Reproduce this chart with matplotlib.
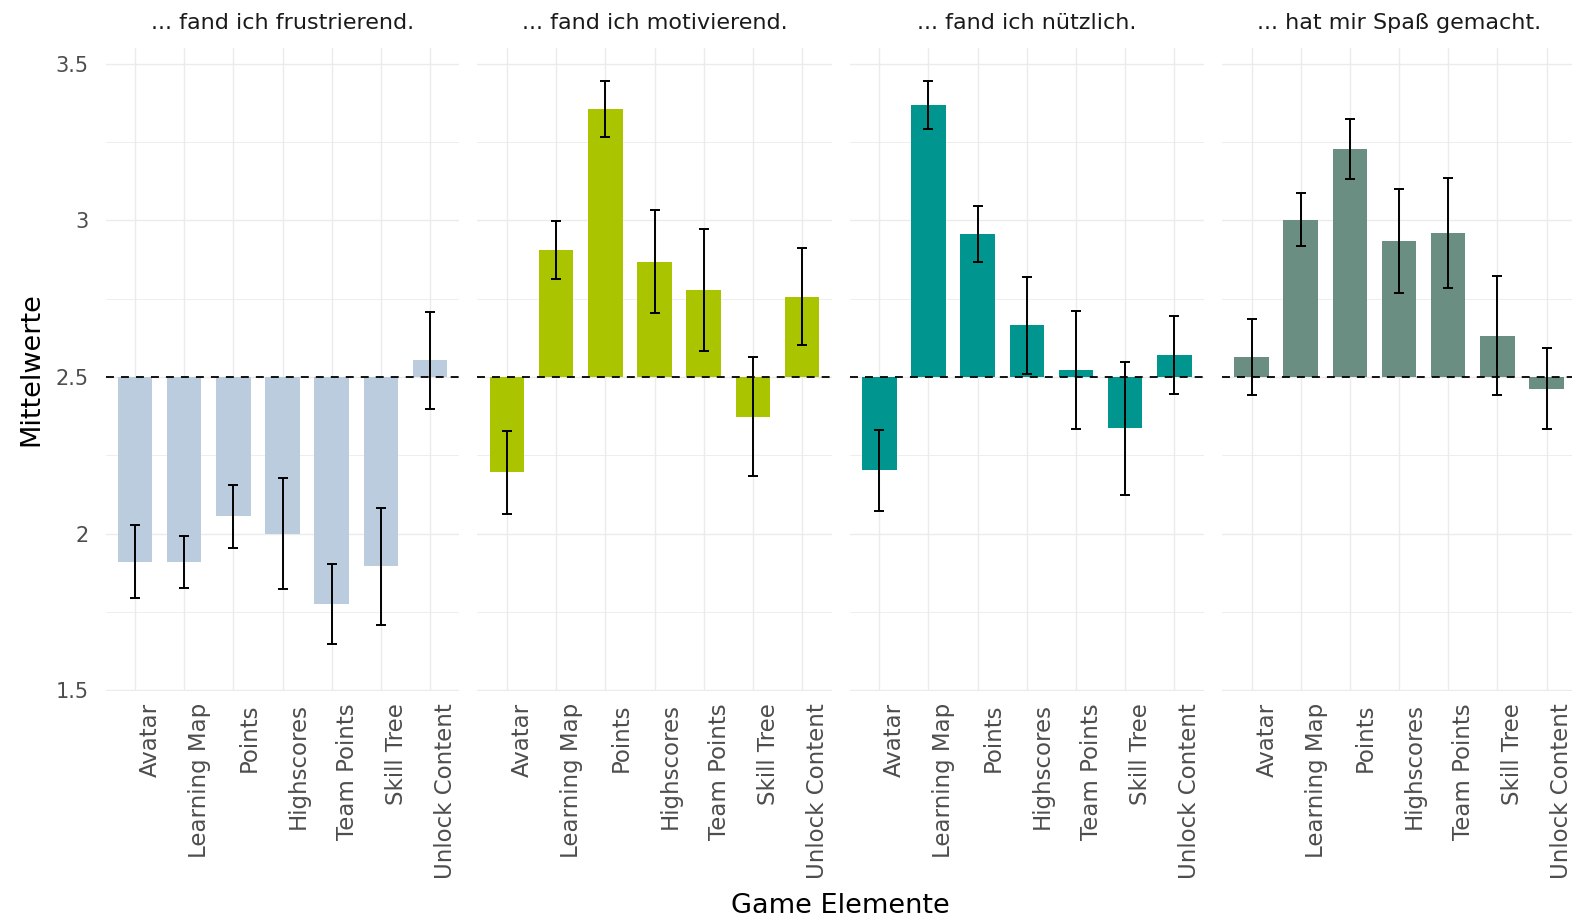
import matplotlib
matplotlib.use("Agg")
import matplotlib.pyplot as plt
from matplotlib.ticker import MultipleLocator
from matplotlib.transforms import ScaledTranslation, blended_transform_factory

# Game elements on the x axis
elements = ["Avatar", "Learning Map", "Points", "Highscores",
            "Team Points", "Skill Tree", "Unlock Content"]

# One panel per questionnaire statement
statements = ["... fand ich frustrierend.", "... fand ich motivierend.",
              "... fand ich nützlich.", "... hat mir Spaß gemacht."]

# Mean ratings per element
mean_frustrierend = [1.91, 1.91, 2.055, 2.00, 1.775, 1.895, 2.553]
mean_motivierend = [2.195, 2.905, 3.357, 2.869, 2.778, 2.373, 2.756]
mean_nuetzlich = [2.202, 3.370, 2.958, 2.666, 2.523, 2.336, 2.571]
mean_spass = [2.563, 3.002, 3.229, 2.934, 2.960, 2.632, 2.463]

# Error bar half-widths per element
err_frustrierend = [0.117, 0.083, 0.100, 0.178, 0.127, 0.188, 0.155]
err_motivierend = [0.131, 0.092, 0.089, 0.166, 0.195, 0.190, 0.155]
err_nuetzlich = [0.130, 0.077, 0.089, 0.155, 0.188, 0.213, 0.124]
err_spass = [0.121, 0.085, 0.095, 0.166, 0.177, 0.190, 0.130]

panel_colors = ["#BCCCDF", "#AAC400", "#00968F", "#6A8E82"]

means = [mean_frustrierend, mean_motivierend, mean_nuetzlich, mean_spass]
errors = [err_frustrierend, err_motivierend, err_nuetzlich, err_spass]

reference = 2.5
y_ticks = [1.5, 2.0, 2.5, 3.0, 3.5]
y_tick_labels = ["1.5", "2", "2.5", "3", "3.5"]

W, H = 1572, 923
fig = plt.figure(figsize=(W / 100, H / 100), dpi=100)
fig.patch.set_facecolor("white")

panel_left = [105.5, 477.5, 849.8, 1222.0]
panel_w = 354.0
panel_top = 47.7
panel_bottom = 691.0

grid_col = "#EBEBEB"

for k in range(4):
    ax = fig.add_axes([panel_left[k] / W, 1 - panel_bottom / H,
                       panel_w / W, (panel_bottom - panel_top) / H])
    ax.set_facecolor("white")
    for s in ax.spines.values():
        s.set_visible(False)

    x = list(range(len(elements)))
    heights = [m - reference for m in means[k]]
    ax.bar(x, heights, bottom=reference, width=0.7,
           color=panel_colors[k], zorder=2)
    ax.axhline(reference, color="black", lw=1.3, dashes=(4.4, 3.9), zorder=3)
    ax.errorbar(x, means[k], yerr=errors[k], fmt="none", ecolor="black",
                elinewidth=1.4, capsize=3.5, capthick=1.4, zorder=4)

    ax.set_xlim(-0.6, len(elements) - 0.4)
    ax.set_ylim(1.497, 3.552)

    ax.set_yticks(y_ticks)
    ax.yaxis.set_minor_locator(MultipleLocator(0.25))
    ax.set_xticks(x)
    ax.set_xticklabels([])
    ax.tick_params(axis="x", length=0)
    ax.tick_params(axis="y", which="both", length=0)
    if k == 0:
        ax.set_yticklabels(y_tick_labels, fontsize=15, color="#4D4D4D")
        ax.tick_params(axis="y", pad=12)
    else:
        ax.set_yticklabels([])

    # rotated element names below each bar, nudged right of the tick
    lab_tr = blended_transform_factory(ax.transData, ax.transAxes) + \
        ScaledTranslation(4 / 100, -12 / 100, fig.dpi_scale_trans)
    for xi, name in zip(x, elements):
        ax.text(xi, 0, name, transform=lab_tr, rotation=90,
                rotation_mode="anchor", ha="right", va="top",
                fontsize=16.5, color="#4D4D4D", clip_on=False)

    ax.grid(True, which="major", color=grid_col, lw=1.0, zorder=0)
    ax.grid(True, which="minor", axis="y", color=grid_col, lw=0.6, zorder=0)
    ax.set_axisbelow(True)

    ax.text(0.5, 1 + (panel_top - 23) / (panel_bottom - panel_top),
            statements[k], transform=ax.transAxes, ha="center", va="center",
            fontsize=16, color="#1A1A1A")

fig.text(31 / W, 1 - 369 / H, "Mittelwerte", rotation=90, ha="center",
         va="center", fontsize=19.5, color="black")
fig.text(840 / W, 1 - 906 / H, "Game Elemente", ha="center", va="center",
         fontsize=19.5, color="black")

fig.savefig("out.png", dpi=100, facecolor="white")
